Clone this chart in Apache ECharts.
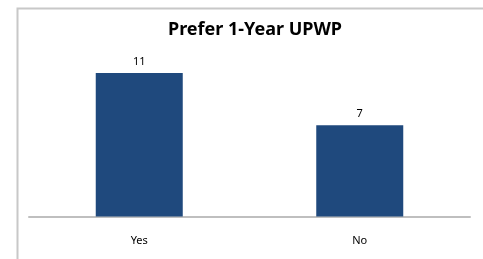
<!DOCTYPE html>
<html>
<head>
<meta charset="utf-8">
<script src="https://cdn.jsdelivr.net/npm/echarts@6/dist/echarts.min.js"></script>
<style>html,body{margin:0;padding:0;background:#fff}#c{width:483px;height:259px}</style>
</head>
<body>
<div id="c"></div>
<script>
const categories = ["Yes", "No"];
const values = [11, 7];
const chart = echarts.init(document.getElementById('c'));
chart.setOption({
  animation: false,
  graphic: [{
    type: 'rect', left: 15, top: 6, shape: { width: 520, height: 300 },
    style: { fill: 'none', stroke: '#c8c8c8', lineWidth: 2 }, silent: true
  }],
  title: {
    text: 'Prefer 1-Year UPWP', left: 250, top: 16, textAlign: 'center',
    textStyle: { fontFamily: 'Noto Sans', fontWeight: 'bold', fontSize: 18, color: '#000' }
  },
  grid: { left: 29, right: 13, top: 60, bottom: 42.5 },
  xAxis: {
    type: 'category', data: categories,
    axisLine: { lineStyle: { color: '#bfbfbf', width: 2 } },
    axisTick: { show: false },
    axisLabel: { margin: 19, fontFamily: 'Noto Sans', fontSize: 11, color: '#000' }
  },
  yAxis: {
    type: 'value', min: 0, max: 12, show: false, splitLine: { show: false }
  },
  series: [{
    type: 'bar', data: values, barWidth: 87,
    itemStyle: { color: '#1F497D' },
    label: { show: true, position: 'top', distance: 6, fontFamily: 'Noto Sans', fontSize: 11, color: '#000' }
  }]
});
</script>
</body>
</html>
